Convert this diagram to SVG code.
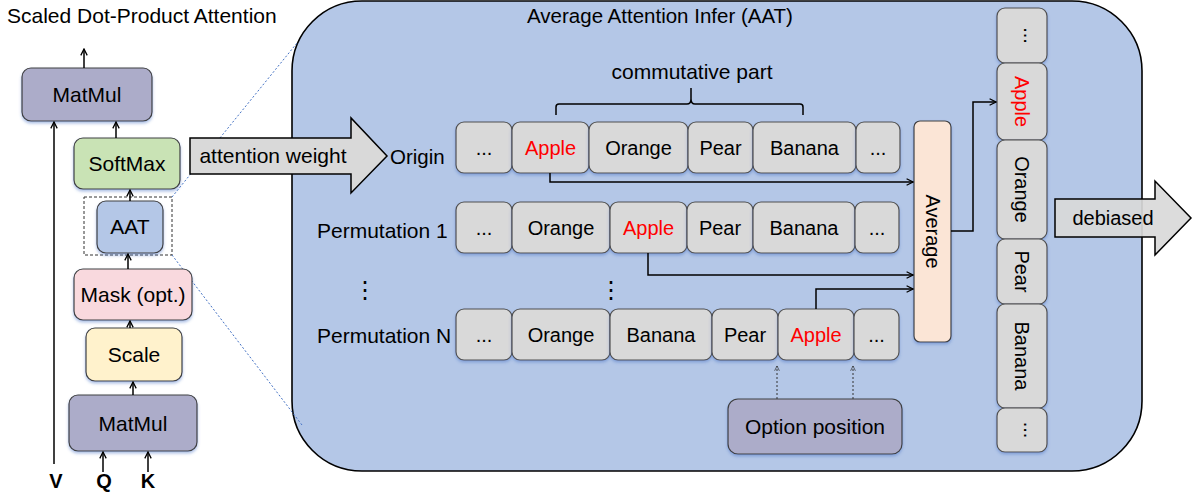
<svg xmlns="http://www.w3.org/2000/svg" width="1195" height="497" viewBox="0 0 1195 497">
<defs>
<filter id="sh" x="-20%" y="-20%" width="140%" height="150%">
<feDropShadow dx="0" dy="2" stdDeviation="1.5" flood-color="#4472C4" flood-opacity="0.45"/>
</filter>
<marker id="ah" viewBox="0 0 10 10" refX="9" refY="5" markerWidth="8" markerHeight="8" markerUnits="userSpaceOnUse" orient="auto">
<path d="M1,1 L9,5 L1,9" fill="none" stroke="#000" stroke-width="1.6"/>
</marker>
<marker id="ahs" viewBox="0 0 10 10" refX="9" refY="5" markerWidth="6" markerHeight="6" markerUnits="userSpaceOnUse" orient="auto">
<path d="M1,1 L9,5 L1,9" fill="none" stroke="#333" stroke-width="1.2"/>
</marker>
</defs>
<style>
text{font-family:"Liberation Sans",Arial,sans-serif;fill:#000}
.t{font-size:20px;text-anchor:middle}
.l{font-size:21px;text-anchor:middle}
.red{fill:#FF0000}
.tok{fill:#D9D9D9;stroke:#505050;stroke-width:1.2;filter:url(#sh)}
.nd{stroke:#404040;stroke-width:1.2;filter:url(#sh)}
.c{fill:none;stroke:#000;stroke-width:1.5}
.cs{fill:none;stroke:#333;stroke-width:1;stroke-dasharray:2 2}
.zoom{fill:none;stroke:#4472C4;stroke-width:1;stroke-dasharray:2 2}
.bold{font-weight:bold;font-size:20px;text-anchor:middle}
.vd{font-size:24px;text-anchor:middle;font-family:"DejaVu Sans",sans-serif}
</style>

<text x="7" y="23" style="font-size:21px">Scaled Dot-Product Attention</text>

<!-- big AAT container -->
<g id="aat-container">
<rect x="292" y="1" width="850" height="470" rx="70" ry="70" fill="#B4C7E7" stroke="#000" stroke-width="1.6"/>
<text x="660" y="23" style="font-size:20.5px;text-anchor:middle">Average Attention Infer (AAT)</text>
</g>

<!-- zoom lines -->
<g id="zoom-lines">
<line class="zoom" x1="172" y1="197" x2="297" y2="43"/>
<line class="zoom" x1="172" y1="255" x2="302" y2="425"/>
</g>

<!-- left column nodes -->
<g id="matmul-top"><rect class="nd" x="22" y="68" width="130" height="53" rx="9" fill="#ACACC9"/><text class="l" x="87" y="102">MatMul</text></g>
<g id="softmax"><rect class="nd" x="74" y="138" width="106" height="51" rx="9" fill="#C9E3B5"/><text class="l" x="127" y="171">SoftMax</text></g>
<g id="aat-dashed"><rect x="84" y="197" width="88" height="58" fill="none" stroke="#333" stroke-width="1" stroke-dasharray="3 2"/></g>
<g id="aat"><rect class="nd" x="97" y="201" width="66" height="52" rx="9" fill="#B4C7E7"/><text class="l" x="130" y="234">AAT</text></g>
<g id="mask"><rect class="nd" x="74" y="269" width="118" height="51" rx="9" fill="#F9D9DE"/><text class="l" x="133" y="302">Mask (opt.)</text></g>
<g id="scale"><rect class="nd" x="86" y="328" width="96" height="53" rx="9" fill="#FFF2CC"/><text class="l" x="134" y="362">Scale</text></g>
<g id="matmul-bottom"><rect class="nd" x="69" y="395" width="128" height="56" rx="9" fill="#ACACC9"/><text class="l" x="133" y="431">MatMul</text></g>
<g id="labels-vqk">
<text class="bold" x="56" y="488">V</text>
<text class="bold" x="104" y="488">Q</text>
<text class="bold" x="148" y="488">K</text>
</g>

<!-- attention weight arrow -->
<g id="attention-weight">
<polygon points="190,138 351,138 351,118 387,156 351,193 351,174 190,174" fill="#D9D9D9" stroke="#000" stroke-width="1.5"/>
<text class="l" x="273" y="163">attention weight</text>
</g>

<!-- row labels -->
<g id="row-labels">
<text x="390" y="164" style="font-size:20.5px">Origin</text>
<text x="317" y="238" style="font-size:21px">Permutation 1</text>
<text x="317" y="343" style="font-size:21px">Permutation N</text>
<text class="vd" x="365" y="298">⋮</text>
<text class="vd" x="611" y="298">⋮</text>
</g>

<!-- brace -->
<g id="commutative-part">
<path d="M556,115 V107 Q556,104 559,104 H687 Q691,104 691,99 V88 M691,99 Q691,104 695,104 H800 Q803,104 803,107 V115" fill="none" stroke="#000" stroke-width="1.5"/>
<text class="l" x="692" y="79">commutative part</text>
</g>

<!-- row origin -->
<g id="row-origin">
<rect class="tok" x="456" y="122" width="56" height="51" rx="8"/><text class="t" x="484" y="155">...</text>
<rect class="tok" x="512" y="122" width="77" height="51" rx="8"/><text class="t red" x="550.5" y="155">Apple</text>
<rect class="tok" x="589" y="122" width="99" height="51" rx="8"/><text class="t" x="638.5" y="155">Orange</text>
<rect class="tok" x="688" y="122" width="65" height="51" rx="8"/><text class="t" x="720.5" y="155">Pear</text>
<rect class="tok" x="753" y="122" width="103" height="51" rx="8"/><text class="t" x="804.5" y="155">Banana</text>
<rect class="tok" x="856" y="122" width="44" height="51" rx="8"/><text class="t" x="878" y="155">...</text>
</g>

<!-- row perm 1 -->
<g id="row-perm1">
<rect class="tok" x="456" y="202" width="56" height="51" rx="8"/><text class="t" x="484" y="235">...</text>
<rect class="tok" x="512" y="202" width="98" height="51" rx="8"/><text class="t" x="561" y="235">Orange</text>
<rect class="tok" x="610" y="202" width="77" height="51" rx="8"/><text class="t red" x="648.5" y="235">Apple</text>
<rect class="tok" x="687" y="202" width="66" height="51" rx="8"/><text class="t" x="720" y="235">Pear</text>
<rect class="tok" x="753" y="202" width="102" height="51" rx="8"/><text class="t" x="804" y="235">Banana</text>
<rect class="tok" x="855" y="202" width="44" height="51" rx="8"/><text class="t" x="877" y="235">...</text>
</g>

<!-- row perm N -->
<g id="row-permN">
<rect class="tok" x="456" y="309" width="56" height="51" rx="8"/><text class="t" x="484" y="342">...</text>
<rect class="tok" x="512" y="309" width="98" height="51" rx="8"/><text class="t" x="561" y="342">Orange</text>
<rect class="tok" x="610" y="309" width="102" height="51" rx="8"/><text class="t" x="661" y="342">Banana</text>
<rect class="tok" x="712" y="309" width="66" height="51" rx="8"/><text class="t" x="745" y="342">Pear</text>
<rect class="tok" x="778" y="309" width="76" height="51" rx="8"/><text class="t red" x="816" y="342">Apple</text>
<rect class="tok" x="854" y="309" width="45" height="51" rx="8"/><text class="t" x="876.5" y="342">...</text>
</g>

<!-- average -->
<g id="average">
<rect class="nd" x="914" y="121" width="37" height="221" rx="6" fill="#FBE5D6"/>
<text class="t" transform="translate(932.5,231.5) rotate(90)" x="0" y="7">Average</text>
</g>

<!-- output column -->
<g id="output-column">
<rect class="tok" x="997" y="8" width="50" height="55" rx="8"/><text class="t" transform="translate(1022,35.5) rotate(90)" x="0" y="-2">...</text>
<rect class="tok" x="997" y="63" width="50" height="77" rx="8"/><text class="t red" transform="translate(1022,101.5) rotate(90)" x="0" y="7">Apple</text>
<rect class="tok" x="997" y="140" width="50" height="99" rx="8"/><text class="t" transform="translate(1022,189.5) rotate(90)" x="0" y="7">Orange</text>
<rect class="tok" x="997" y="239" width="50" height="65" rx="8"/><text class="t" transform="translate(1022,271.5) rotate(90)" x="0" y="7">Pear</text>
<rect class="tok" x="997" y="304" width="50" height="104" rx="8"/><text class="t" transform="translate(1022,356) rotate(90)" x="0" y="7">Banana</text>
<rect class="tok" x="997" y="408" width="50" height="44" rx="8"/><text class="t" transform="translate(1022,430) rotate(90)" x="0" y="-2">...</text>
</g>

<!-- debiased arrow -->
<g id="debiased">
<polygon points="1055,199 1155,199 1155,181 1191,218 1155,255 1155,237 1055,237" fill="#D9D9D9" fill-opacity="0.92" stroke="#000" stroke-width="1.5"/>
<text class="t" x="1113" y="225">debiased</text>
</g>

<!-- option position -->
<g id="option-position">
<rect class="nd" x="728" y="399" width="174" height="55" rx="10" fill="#ACACC9"/>
<text class="l" x="815" y="434">Option position</text>
</g>

<!-- connectors -->
<g id="connectors">
<line class="c" x1="84" y1="68" x2="84" y2="49" marker-end="url(#ah)"/>
<line class="c" x1="54" y1="464" x2="54" y2="122" marker-end="url(#ah)"/>
<line class="c" x1="116" y1="138" x2="116" y2="122" marker-end="url(#ah)"/>
<line class="c" x1="130" y1="201" x2="130" y2="190" marker-end="url(#ah)"/>
<line class="c" x1="128" y1="269" x2="128" y2="254" marker-end="url(#ah)"/>
<line class="c" x1="130" y1="328" x2="130" y2="321" marker-end="url(#ah)"/>
<line class="c" x1="133" y1="395" x2="133" y2="382" marker-end="url(#ah)"/>
<line class="c" x1="103" y1="472" x2="103" y2="452" marker-end="url(#ah)"/>
<line class="c" x1="148" y1="472" x2="148" y2="452" marker-end="url(#ah)"/>
<path class="c" d="M550,173 V182 H913" marker-end="url(#ah)"/>
<path class="c" d="M648,253 V275 H913" marker-end="url(#ah)"/>
<path class="c" d="M816,309 V289 H913" marker-end="url(#ah)"/>
<path class="c" d="M951,231 H973 V102 H996" marker-end="url(#ah)"/>
<line class="cs" x1="777" y1="399" x2="777" y2="366" marker-end="url(#ahs)"/>
<line class="cs" x1="853" y1="399" x2="853" y2="366" marker-end="url(#ahs)"/>
</g>
</svg>
